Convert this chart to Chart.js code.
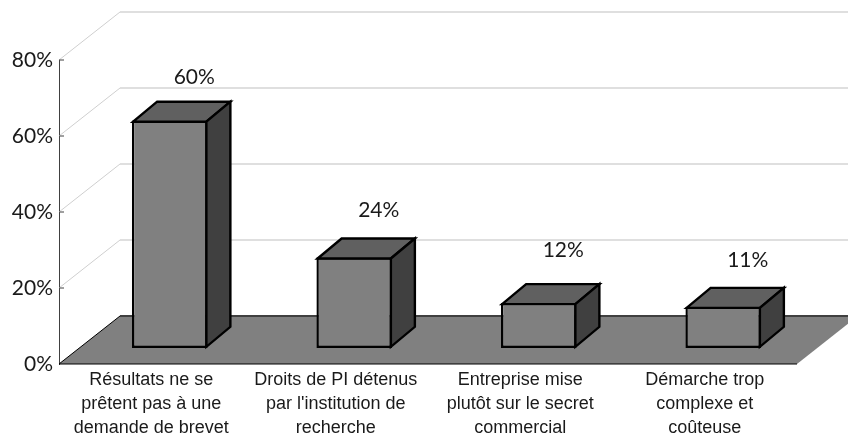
<!DOCTYPE html>
<html>
<head>
<meta charset="utf-8">
<title>Chart</title>
<script src="https://cdn.jsdelivr.net/npm/chart.js@4/dist/chart.umd.min.js"></script>
<style>
  html, body { margin: 0; padding: 0; background: #fff; }
  canvas { display: block; }
</style>
</head>
<body>
<canvas id="barChart" width="848" height="435"></canvas>
<script>
// Chart data
var categories = [
    ['Résultats ne se', 'prêtent pas à une', 'demande de brevet'],
    ['Droits de PI détenus', "par l'institution de", 'recherche'],
    ['Entreprise mise', 'plutôt sur le secret', 'commercial'],
    ['Démarche trop', 'complexe et', 'coûteuse']
];
var shares = [60, 24, 12, 11];
var axisTicks = [0, 20, 40, 60, 80];

// How far the value labels sit above their value on the scale
var labelLift = [59, 63, 68, 62];

// 3D look: depth of the floor and walls, position and depth of the bars
var wallDepth = { x: 61, y: -48 };
var barShift = { x: 18.5, y: -15.5 };
var barDepth = { x: 24, y: -20 };
var barBorder = 2.4;

var tickFont = { family: 'Lato', size: 21 };
var labelFont = { family: 'Liberation Sans', size: 18, lineHeight: 1.3333 };

function polygon(ctx, points, fill, stroke, lineWidth) {
    ctx.beginPath();
    ctx.moveTo(points[0][0], points[0][1]);
    for (var i = 1; i < points.length; i++) {
        ctx.lineTo(points[i][0], points[i][1]);
    }
    ctx.closePath();
    ctx.fillStyle = fill;
    ctx.fill();
    if (stroke) {
        ctx.strokeStyle = stroke;
        ctx.lineWidth = lineWidth;
        ctx.lineJoin = 'miter';
        ctx.stroke();
    }
}

// Wall gridlines, floor, and the small ticks on the value axis
var roomPlugin = {
    id: 'room',
    beforeDatasetsDraw: function(chart) {
        var ctx = chart.ctx;
        var y = chart.scales.y;
        var area = chart.chartArea;

        ctx.save();
        axisTicks.forEach(function(v) {
            var py = y.getPixelForValue(v);
            if (v > 0) {
                ctx.beginPath();
                ctx.moveTo(area.left, py);
                ctx.lineTo(area.left + wallDepth.x, py + wallDepth.y);
                ctx.strokeStyle = '#cfcfcf';
                ctx.lineWidth = 1;
                ctx.stroke();

                ctx.beginPath();
                ctx.moveTo(area.left + wallDepth.x, py + wallDepth.y);
                ctx.lineTo(chart.width, py + wallDepth.y);
                ctx.strokeStyle = '#d4d4d4';
                ctx.lineWidth = 1.5;
                ctx.stroke();

                ctx.beginPath();
                ctx.moveTo(area.left, py);
                ctx.lineTo(area.left + 5, py);
                ctx.strokeStyle = '#404040';
                ctx.lineWidth = 1;
                ctx.stroke();
            }
        });

        var base = y.getPixelForValue(0);
        polygon(ctx, [
            [area.left, base],
            [area.left + wallDepth.x, base + wallDepth.y],
            [area.right + wallDepth.x, base + wallDepth.y],
            [area.right, base]
        ], '#808080');

        // back and front edges of the floor
        ctx.strokeStyle = '#404040';
        ctx.lineWidth = 2;
        ctx.beginPath();
        ctx.moveTo(area.left + wallDepth.x, base + wallDepth.y);
        ctx.lineTo(chart.width, base + wallDepth.y);
        ctx.stroke();

        ctx.strokeStyle = '#000';
        ctx.lineWidth = 1;
        ctx.beginPath();
        ctx.moveTo(area.left + wallDepth.x, base + wallDepth.y);
        ctx.lineTo(area.left, base);
        ctx.lineTo(area.right, base);
        ctx.stroke();
        ctx.restore();

        // the bars stand a little way back from the front edge
        ctx.save();
        ctx.translate(barShift.x, barShift.y);
    },
    afterDatasetsDraw: function(chart) {
        var ctx = chart.ctx;
        var bars = chart.getDatasetMeta(0).data;
        var inset = barBorder / 2;

        bars.forEach(function(bar) {
            var left = bar.x - bar.width / 2 + inset;
            var right = bar.x + bar.width / 2 - inset;
            var top = bar.y + inset;
            var bottom = bar.base - inset;
            var dx = barDepth.x, dy = barDepth.y;

            polygon(ctx, [
                [left, top], [left + dx, top + dy], [right + dx, top + dy], [right, top]
            ], '#606060', '#000', barBorder);
            polygon(ctx, [
                [right, top], [right + dx, top + dy], [right + dx, bottom + dy], [right, bottom]
            ], '#404040', '#000', barBorder);
        });
        ctx.restore();

        // value labels
        ctx.save();
        ctx.font = tickFont.size + 'px ' + tickFont.family;
        ctx.fillStyle = '#1a1a1a';
        ctx.textAlign = 'center';
        ctx.textBaseline = 'middle';
        bars.forEach(function(bar, i) {
            var py = chart.scales.y.getPixelForValue(shares[i]) - labelLift[i];
            ctx.fillText(shares[i] + '%', bar.x + barShift.x + barDepth.x + 0.5, py);
        });
        ctx.restore();
    }
};

var ctx = document.getElementById('barChart').getContext('2d');

var barChart = new Chart(ctx, {
    type: 'bar',
    data: {
        labels: categories,
        datasets: [{
            data: shares,
            backgroundColor: '#808080',
            borderColor: '#000',
            borderWidth: barBorder,
            borderSkipped: false,
            categoryPercentage: 1,
            barPercentage: 0.41,
            clip: false
        }]
    },
    options: {
        responsive: false,
        animation: false,
        layout: { padding: { top: 60, right: 51, left: 0, bottom: 0 } },
        plugins: {
            legend: { display: false },
            tooltip: { enabled: false }
        },
        scales: {
            x: {
                afterFit: function(scale) { scale.height = 71; },
                grid: { display: false },
                border: { display: false },
                ticks: {
                    font: labelFont,
                    color: '#1a1a1a',
                    padding: -4,
                    maxRotation: 0,
                    autoSkip: false
                }
            },
            y: {
                min: 0,
                max: 80,
                afterFit: function(scale) { scale.width = 59; },
                afterBuildTicks: function(scale) {
                    scale.ticks = axisTicks.map(function(v) { return { value: v }; });
                },
                grid: { drawOnChartArea: false, drawTicks: false },
                border: { display: true, color: '#404040', width: 1 },
                ticks: {
                    font: tickFont,
                    color: '#1a1a1a',
                    padding: 6,
                    callback: function(value) { return value + '%'; }
                }
            }
        }
    },
    plugins: [roomPlugin]
});
</script>
</body>
</html>
